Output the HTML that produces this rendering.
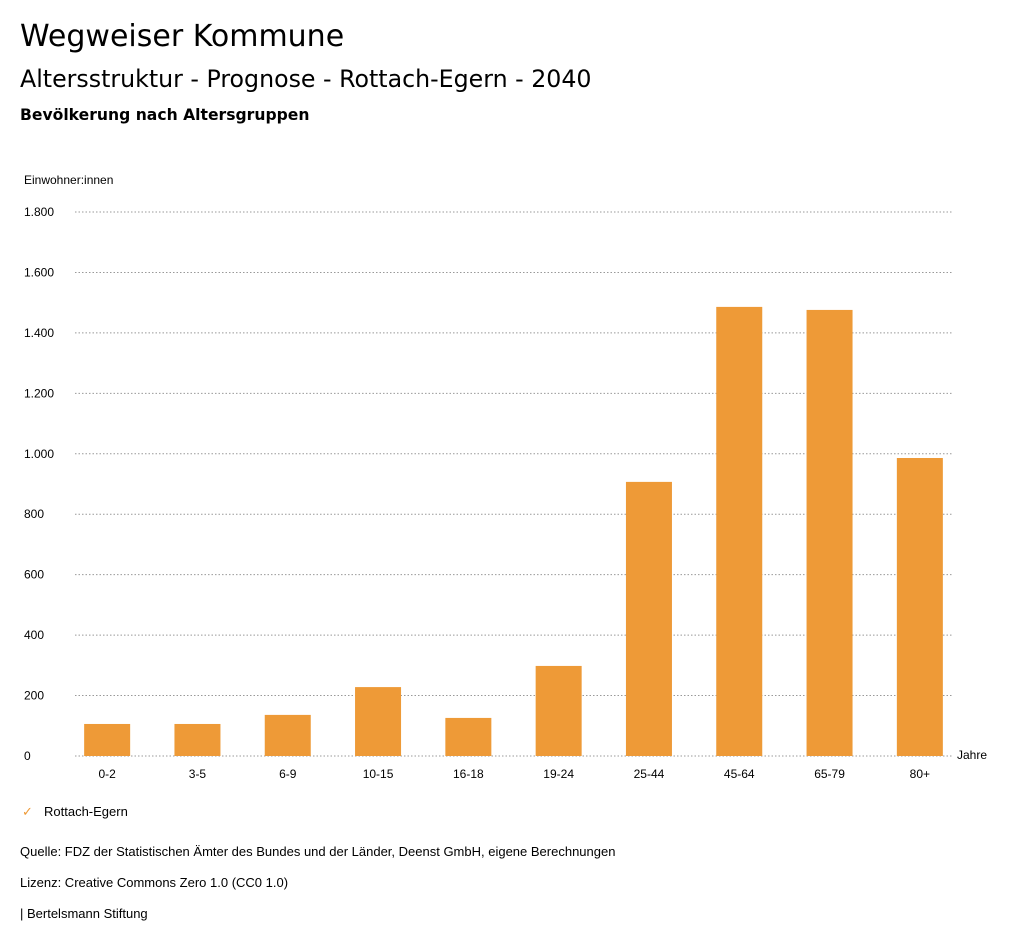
<!DOCTYPE html>
<html><head><meta charset="utf-8"><style>
body{margin:0;background:#fff;font-family:"Liberation Sans","DejaVu Sans",sans-serif;width:1024px;height:946px;overflow:hidden;position:relative;color:#000}
.t{position:absolute;white-space:nowrap}
</style></head><body>
<div class="t" style="left:20px;top:19px;font-size:30px;font-family:'DejaVu Sans',sans-serif">Wegweiser Kommune</div>
<div class="t" style="left:20px;top:65px;font-size:23.7px;font-family:'DejaVu Sans',sans-serif">Altersstruktur - Prognose - Rottach-Egern - 2040</div>
<div class="t" style="left:20px;top:106px;font-size:15.6px;font-weight:bold;font-family:'DejaVu Sans',sans-serif">Bevölkerung nach Altersgruppen</div>
<svg id="chart" width="1024" height="946" style="position:absolute;left:0;top:0"></svg>
<div class="t" style="left:22px;top:804px;font-size:13px;color:#ee9a37">✓</div>
<div class="t" style="left:44px;top:804px;font-size:13px">Rottach-Egern</div>
<div class="t" style="left:20px;top:844px;font-size:13px">Quelle: FDZ der Statistischen Ämter des Bundes und der Länder, Deenst GmbH, eigene Berechnungen</div>
<div class="t" style="left:20px;top:875px;font-size:13px">Lizenz: Creative Commons Zero 1.0 (CC0 1.0)</div>
<div class="t" style="left:20px;top:906px;font-size:13px">| Bertelsmann Stiftung</div>
<script>
const categories=["0-2","3-5","6-9","10-15","16-18","19-24","25-44","45-64","65-79","80+"];
const values=[106,106,136,228,126,298,907,1486,1476,986];
const yTicks=[0,200,400,600,800,1000,1200,1400,1600,1800];
const yTickLabels=["0","200","400","600","800","1.000","1.200","1.400","1.600","1.800"];
const NS="http://www.w3.org/2000/svg";
const svg=document.getElementById('chart');
const y0=756,y1=212,yMax=1800,xL=62,xR=965;
const y=v=>y0-(v/yMax)*(y0-y1);
const band=(xR-xL)/categories.length;
const x=i=>xL+band*i+band/2;
function mk(t,a){const e=document.createElementNS(NS,t);for(const k in a)e.setAttribute(k,a[k]);svg.appendChild(e);return e;}
yTicks.forEach((v,i)=>{
 const l=mk('line',{x1:75,x2:953,y1:y(v),y2:y(v),stroke:'#999','stroke-dasharray':'1.5,2','stroke-width':1});
 
 
 const t=mk('text',{x:24,y:y(v)+4,'font-size':12,'font-family':'Liberation Sans, sans-serif'});
 t.textContent=yTickLabels[i];
 
 
});
const yt=mk('text',{x:24,y:184,'font-size':12,'font-family':'Liberation Sans, sans-serif'});
yt.textContent='Einwohner:innen';


const xt=mk('text',{x:957,y:759,'font-size':12,'font-family':'Liberation Sans, sans-serif'});
xt.textContent='Jahre';


categories.forEach((c,i)=>{
 const b=mk('rect',{x:x(i)-23,y:y(values[i]),width:46,height:y0-y(values[i]),fill:'#ee9a37'});
 
 
 const t=mk('text',{x:x(i),y:778,'font-size':12,'text-anchor':'middle','font-family':'Liberation Sans, sans-serif'});
 t.textContent=c;
 
 
});
</script>
</body></html>
